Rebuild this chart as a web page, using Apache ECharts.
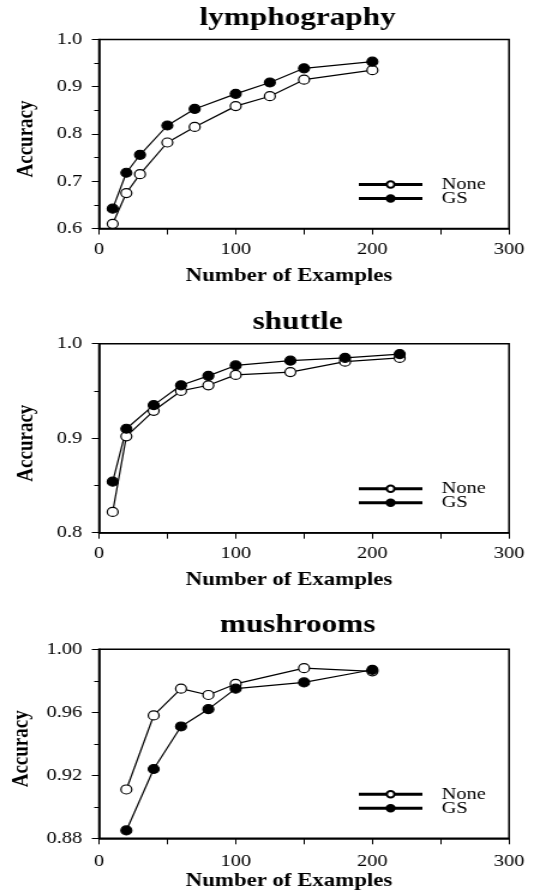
<!DOCTYPE html>
<html>
<head>
<meta charset="utf-8">
<title>Accuracy vs Number of Examples</title>
<script src="https://cdn.jsdelivr.net/npm/echarts@6/dist/echarts.min.js"></script>
<style>
html, body { margin: 0; padding: 0; background: #fff; overflow: hidden; }
/* the figure is a little wider than tall in its fonts, so draw narrow and stretch */
#chart { width: 445px; height: 896px; transform: scaleX(1.2); transform-origin: 0 0; }
</style>
</head>
<body>
<div id="chart"></div>
<script>
var titles = ['lymphography', 'shuttle', 'mushrooms'];
var seriesNames = ['None', 'GS'];

var lymphoX = [10, 20, 30, 50, 70, 100, 125, 150, 200];
var lymphoNone = [0.610, 0.675, 0.715, 0.782, 0.815, 0.859, 0.880, 0.915, 0.935];
var lymphoGS = [0.642, 0.718, 0.756, 0.818, 0.853, 0.885, 0.909, 0.939, 0.953];

var shuttleX = [10, 20, 40, 60, 80, 100, 140, 180, 220];
var shuttleNone = [0.822, 0.902, 0.929, 0.950, 0.956, 0.967, 0.970, 0.981, 0.985];
var shuttleGS = [0.854, 0.910, 0.935, 0.956, 0.966, 0.977, 0.982, 0.985, 0.989];

var mushX = [20, 40, 60, 80, 100, 150, 200];
var mushNone = [0.911, 0.958, 0.975, 0.971, 0.978, 0.988, 0.986];
var mushGS = [0.885, 0.924, 0.951, 0.962, 0.975, 0.979, 0.987];

var xTicks = [0, 300, 100];          // min, max, step
var yTicks = [
	[0.6, 1.0, 0.1],
	[0.8, 1.0, 0.1],
	[0.88, 1.0, 0.04]
];
var yDigits = [1, 1, 2];

var panelData = [
	{ x: lymphoX, none: lymphoNone, gs: lymphoGS },
	{ x: shuttleX, none: shuttleNone, gs: shuttleGS },
	{ x: mushX, none: mushNone, gs: mushGS }
];

// layout of each panel
var gridTops = [39.5, 343.7, 649.3];
var titleYs = [18, 322, 625.5];
var legendTops = [176, 480.3, 785.7];
var xLabelMargins = [13, 12, 15];
var xNameGaps = [38.5, 38, 29];

var font = "'Liberation Serif', 'Times New Roman', serif";

var pairs = function(xs, ys) {
	return xs.map(function(x, j) { return [x, ys[j]]; });
};

var option = {
	animation: false,
	backgroundColor: '#fff',
	title: [],
	legend: [],
	grid: [],
	xAxis: [],
	yAxis: [],
	series: []
};

panelData.forEach(function(d, i) {
	option.title.push({
		text: titles[i],
		left: 248,
		top: titleYs[i],
		textAlign: 'center',
		textVerticalAlign: 'middle',
		padding: 0,
		textStyle: { fontFamily: font, fontWeight: 'bold', fontSize: 26, color: '#000' }
	});
	option.grid.push({
		left: 82.5,
		right: 20.8,
		top: gridTops[i],
		height: 189,
		show: true,
		borderColor: '#000',
		borderWidth: 1.5
	});
	option.xAxis.push({
		gridIndex: i,
		type: 'value',
		min: xTicks[0],
		max: xTicks[1],
		interval: xTicks[2],
		axisLine: { show: true, onZero: false, lineStyle: { color: '#000', width: 1.5 } },
		axisTick: { show: true, inside: false, length: 6, lineStyle: { color: '#000', width: 1 } },
		minorTick: { show: true, splitNumber: 2, length: 6, lineStyle: { color: '#000', width: 1 } },
		splitLine: { show: false },
		minorSplitLine: { show: false },
		axisLabel: { margin: xLabelMargins[i], color: '#000', fontFamily: font, fontSize: 17 },
		name: 'Number of Examples',
		nameLocation: 'middle',
		nameGap: xNameGaps[i],
		nameTextStyle: { fontFamily: font, fontWeight: 'bold', fontSize: 19, color: '#000', padding: [0, 25, 0, 0] }
	});
	option.yAxis.push({
		gridIndex: i,
		type: 'value',
		min: yTicks[i][0],
		max: yTicks[i][1],
		interval: yTicks[i][2],
		axisLine: { show: true, onZero: false, lineStyle: { color: '#000', width: 1.5 } },
		axisTick: { show: true, inside: false, length: 6, lineStyle: { color: '#000', width: 1 } },
		minorTick: { show: true, splitNumber: 2, length: 4, lineStyle: { color: '#000', width: 1 } },
		splitLine: { show: false },
		minorSplitLine: { show: false },
		axisLabel: {
			margin: 14, color: '#000', fontFamily: font, fontSize: 17,
			formatter: function(v) { return v.toFixed(yDigits[i]); }
		},
		name: 'Accuracy',
		nameLocation: 'middle',
		nameGap: 51,
		nameTextStyle: { fontFamily: font, fontWeight: 'bold', fontSize: 19, color: '#000', padding: [0, 10, 0, 0] }
	});
	option.legend.push({
		left: 297.5,
		top: legendTops[i],
		orient: 'vertical',
		padding: 0,
		itemWidth: 53,
		itemHeight: 8,
		itemGap: -3,
		selectedMode: false,
		data: seriesNames,
		lineStyle: { width: 3, color: '#000' },
		textStyle: { fontFamily: font, fontSize: 17, lineHeight: 14, color: '#000', padding: [0, 0, 0, 11] }
	});
	option.series.push({
		name: seriesNames[0],
		type: 'line',
		xAxisIndex: i,
		yAxisIndex: i,
		data: pairs(d.x, d.none),
		symbol: 'circle',
		symbolSize: 9,
		itemStyle: { color: '#fff', borderColor: '#000', borderWidth: 1.2 },
		lineStyle: { color: '#000', width: 1.2 },
		silent: true
	});
	option.series.push({
		name: seriesNames[1],
		type: 'line',
		xAxisIndex: i,
		yAxisIndex: i,
		data: pairs(d.x, d.gs),
		symbol: 'circle',
		symbolSize: 9,
		itemStyle: { color: '#000', borderColor: '#000', borderWidth: 1.2 },
		lineStyle: { color: '#000', width: 1.2 },
		silent: true
	});
});

var myChart = echarts.init(document.getElementById('chart'));
myChart.setOption(option);
</script>
</body>
</html>
